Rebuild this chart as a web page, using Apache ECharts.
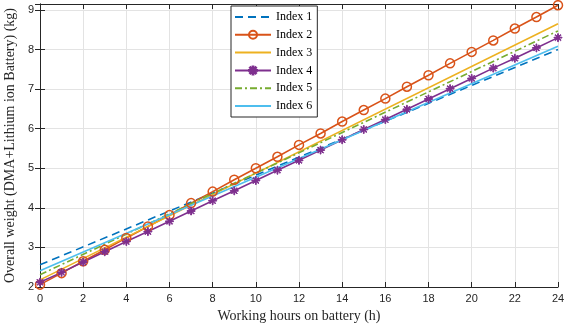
<!DOCTYPE html>
<html>
<head>
<meta charset="utf-8">
<script src="https://cdn.jsdelivr.net/npm/echarts@6/dist/echarts.min.js"></script>
<style>
html,body{margin:0;padding:0;background:#fff;}
#chart{width:564px;height:330px;}
</style>
</head>
<body>
<div id="chart"></div>
<script>
// ---- data ----
const seriesNames = ['Index 1', 'Index 2', 'Index 3', 'Index 4', 'Index 5', 'Index 6'];
const hours = [0,1,2,3,4,5,6,7,8,9,10,11,12,13,14,15,16,17,18,19,20,21,22,23,24];
const lineHours = [0, 24];
const index1 = [2.56, 8.00];
const index2 = [2.06,2.35,2.65,2.94,3.24,3.53,3.82,4.12,4.41,4.71,5.00,5.29,5.59,5.88,6.18,6.47,6.76,7.06,7.35,7.65,7.94,8.23,8.53,8.82,9.12];
const index3 = [2.18, 8.65];
const index4 = [2.12,2.37,2.63,2.89,3.15,3.40,3.66,3.92,4.18,4.43,4.69,4.95,5.20,5.46,5.72,5.98,6.23,6.49,6.75,7.01,7.27,7.53,7.78,8.04,8.30];
const index5 = [2.31, 8.47];
const index6 = [2.41, 8.08];
const xTicks = [0,2,4,6,8,10,12,14,16,18,20,22,24];
const yTicks = [2,3,4,5,6,7,8,9];

const colors = ['#0072BD','#D95319','#EDB120','#7E2F8E','#77AC30','#4DBEEE'];
const axisColor = '#262626';
const gridColor = '#e3e3e3';
const serif = '"Liberation Serif", "DejaVu Serif", serif';
const sans = '"Liberation Sans", Arial, sans-serif';
const clear = 'rgba(0,0,0,0)';

const asterisk = 'path://M9 0L11 0L11 20L9 20Z M0 9L20 9L20 11L0 11Z M3.6 2.2L17.8 16.4L16.4 17.8L2.2 3.6Z M16.4 2.2L17.8 3.6L3.6 17.8L2.2 16.4Z';

function pairs(xs, ys){ return xs.map((x,i)=>[x, ys[i]]); }

const chart = echarts.init(document.getElementById('chart'), null, {renderer:'canvas'});
const option = {
  animation: false,
  backgroundColor: '#fff',
  grid: {left: 40, right: 6, top: 4, bottom: 43, containLabel: false, outerBoundsMode: 'none'},
  legend: {
    orient: 'vertical',
    left: 231, top: 6,
    padding: [5, 5, 5, 3],
    itemWidth: 36, itemHeight: 10, itemGap: 5.8,
    backgroundColor: '#fff',
    borderColor: axisColor, borderWidth: 1,
    textStyle: {fontFamily: serif, fontSize: 12, lineHeight: 12, color: '#000'},
    data: seriesNames
  },
  xAxis: [{
    type: 'value', min: 0, max: 24, interval: 2,
    name: 'Working hours on battery (h)', nameLocation: 'middle', nameGap: 22,
    nameTextStyle: {fontFamily: serif, fontSize: 14, color: axisColor},
    axisLine: {show: true, lineStyle: {color: axisColor, width: 1}},
    axisTick: {show: true, inside: true, length: 5, lineStyle: {color: axisColor}},
    axisLabel: {fontFamily: sans, fontSize: 11, color: axisColor, margin: 6,
      formatter: v => xTicks.includes(v) ? String(v) : ''},
    splitLine: {show: true, lineStyle: {color: gridColor, width: 1}}
  }, {
    type: 'value', min: 0, max: 24, interval: 2, position: 'top',
    axisLine: {show: true, lineStyle: {color: axisColor, width: 1}},
    axisTick: {show: true, inside: true, length: 5, lineStyle: {color: axisColor}},
    axisLabel: {show: false}, splitLine: {show: false}
  }],
  yAxis: [{
    type: 'value', min: 2, max: 9.15, interval: 1,
    name: 'Overall weight (DMA+Lithium ion Battery) (kg)', nameLocation: 'middle', nameGap: 15,
    nameTextStyle: {fontFamily: serif, fontSize: 14, color: axisColor},
    axisLine: {show: true, lineStyle: {color: axisColor, width: 1}},
    axisTick: {show: true, inside: true, length: 5, lineStyle: {color: axisColor}},
    axisLabel: {fontFamily: sans, fontSize: 11, color: axisColor, margin: 6,
      formatter: v => yTicks.includes(v) ? String(v) : '', showMaxLabel: false},
    splitLine: {show: true, lineStyle: {color: gridColor, width: 1}}
  }, {
    type: 'value', min: 2, max: 9.15, interval: 1, position: 'right',
    axisLine: {show: true, lineStyle: {color: axisColor, width: 1}},
    axisTick: {show: true, inside: true, length: 5, lineStyle: {color: axisColor}},
    axisLabel: {show: false}, splitLine: {show: false}
  }],
  series: [
    {name: seriesNames[0], type: 'line', data: pairs(lineHours, index1), symbol: 'none',
     lineStyle: {color: colors[0], width: 1.6, type: [8, 5]}, itemStyle: {color: clear}},
    {name: seriesNames[1], type: 'line', data: pairs(hours, index2), symbol: 'circle', symbolSize: 9, showSymbol: true,
     lineStyle: {color: colors[1], width: 1.6},
     itemStyle: {color: clear, borderColor: colors[1], borderWidth: 1.5}},
    {name: seriesNames[2], type: 'line', data: pairs(lineHours, index3), symbol: 'none',
     lineStyle: {color: colors[2], width: 1.6}, itemStyle: {color: clear}},
    {name: seriesNames[3], type: 'line', data: pairs(hours, index4), symbol: asterisk, symbolSize: 8, showSymbol: true,
     lineStyle: {color: colors[3], width: 1.6},
     itemStyle: {color: colors[3], borderColor: colors[3], borderWidth: 1}},
    {name: seriesNames[4], type: 'line', data: pairs(lineHours, index5), symbol: 'none',
     lineStyle: {color: colors[4], width: 1.6, type: [7, 3, 2, 3]}, itemStyle: {color: clear}},
    {name: seriesNames[5], type: 'line', data: pairs(lineHours, index6), symbol: 'none',
     lineStyle: {color: colors[5], width: 1.6}, itemStyle: {color: clear}}
  ]
};
chart.setOption(option);
</script>
</body>
</html>
